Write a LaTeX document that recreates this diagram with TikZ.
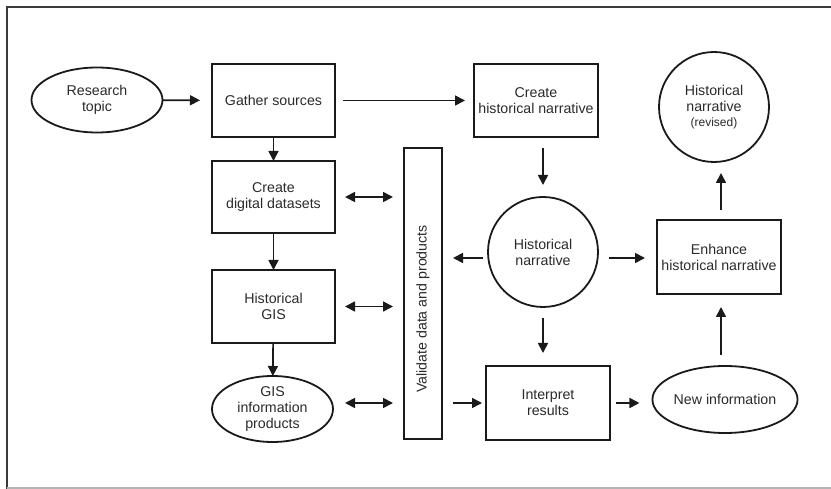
\documentclass[tikz,border=0pt]{standalone}
\usepackage{fontspec}
\setmainfont{Liberation Sans}
\usetikzlibrary{shapes.geometric,arrows.meta}
\definecolor{ink}{HTML}{1A1A1A}
\definecolor{txt}{HTML}{2A2A2A}
\definecolor{framedark}{HTML}{3A3A3A}
\definecolor{framelight}{HTML}{B4B4B4}
\begin{document}
\begin{tikzpicture}[x=1pt,y=-1pt,
  lbl/.style={text=txt,align=center,font=\fontsize{14.2}{16}\selectfont},
  box/.style={lbl,draw=ink,line width=2pt,rectangle,minimum width=123pt,minimum height=73pt,inner sep=2pt,outer sep=0pt},
  oval/.style={lbl,draw=ink,line width=1.8pt,ellipse,inner sep=0pt,outer sep=0pt},
  circ/.style={lbl,draw=ink,line width=1.8pt,circle,minimum size=110pt,inner sep=0pt,outer sep=0pt},
  arr/.style={draw=ink,line width=1.7pt,-{Triangle[length=10pt,width=10pt]}},
  darr/.style={draw=ink,line width=1.7pt,{Triangle[length=10pt,width=10pt]}-{Triangle[length=10pt,width=10pt]}}]
\useasboundingbox (0,0) rectangle (831,489);
\clip (0,0) rectangle (831,489);
% frame
\draw[framedark,line width=2.2pt] (7,489) -- (7,7) -- (831,7);
\draw[framelight,line width=1.8pt] (7,488) -- (831,488);
% nodes
\node[oval,minimum width=131pt,minimum height=65pt] (rt) at (97,100) {Research\\topic};
\node[box] (gs) at (273.5,100.5) {Gather sources};
\node[box,minimum width=124pt] (ch) at (536,100.5) {Create\\historical narrative};
\node[circ] (rv) at (714,107) {Historical\\narrative\\[-1pt]{\fontsize{12}{13}\selectfont(revised)}};
\node[box,minimum height=72pt] (dd) at (273.5,197) {Create\\digital datasets};
\node[box,minimum width=38pt,minimum height=291pt] (va) at (423,293.5) {};
\node[lbl,rotate=90] (vat) at (423,309) {Validate data and products};
\node[circ] (hn) at (543,252) {Historical\\narrative};
\node[box,minimum width=124pt,minimum height=74pt] (en) at (719,257) {Enhance\\historical narrative};
\node[box] (hg) at (273.5,306.5) {Historical\\GIS};
\node[oval,minimum width=121pt,minimum height=66pt] (gp) at (272.5,409) {GIS\\information\\products};
\node[box,minimum width=124pt,minimum height=74pt] (ir) at (548,403) {Interpret\\results};
\node[oval,minimum width=132pt,minimum height=67pt] (ni) at (725,399.5) {New information};
\coordinate (ym) at (0,258);
\coordinate (ax) at (721,0);
% connectors
\draw[arr,shorten >=12pt] (rt) -- (gs);
\draw[arr,shorten <=8pt,shorten >=9pt] (gs) -- (ch);
\draw[arr] (gs) -- (dd);
\draw[arr] (dd) -- (hg);
\draw[arr] (hg) -- (gp);
\draw[darr,shorten <=10pt,shorten >=11pt] (dd.east) -- (dd.east -| va.west);
\draw[darr,shorten <=10pt,shorten >=11pt] (hg.east) -- (hg.east -| va.west);
\draw[darr,shorten <=12pt,shorten >=11pt] (gp.east |- ir.west) -- (va.west |- ir.west);
\draw[arr,shorten <=11pt,shorten >=4pt] (va.east |- ir.west) -- (ir.west);
\draw[arr,shorten <=6pt,shorten >=13pt] (ir.east) -- (ni.west |- ir.east);
\draw[arr,shorten <=11pt,shorten >=12pt] (hn.north |- ch.south) -- (hn.north);
\draw[arr,shorten <=11pt,shorten >=13pt] (hn.south) -- (hn.south |- ir.north);
\draw[arr,shorten <=5pt,shorten >=11pt] (hn.west |- ym) -- (va.east |- ym);
\draw[arr,shorten <=11pt,shorten >=12pt] (hn.east |- ym) -- (en.west |- ym);
\draw[arr,shorten <=11pt,shorten >=13pt] (ax |- ni.north) -- (ax |- en.south);
\draw[arr,shorten <=10pt,shorten >=11pt] (ax |- en.north) -- (ax |- rv.south);
\end{tikzpicture}
\end{document}
